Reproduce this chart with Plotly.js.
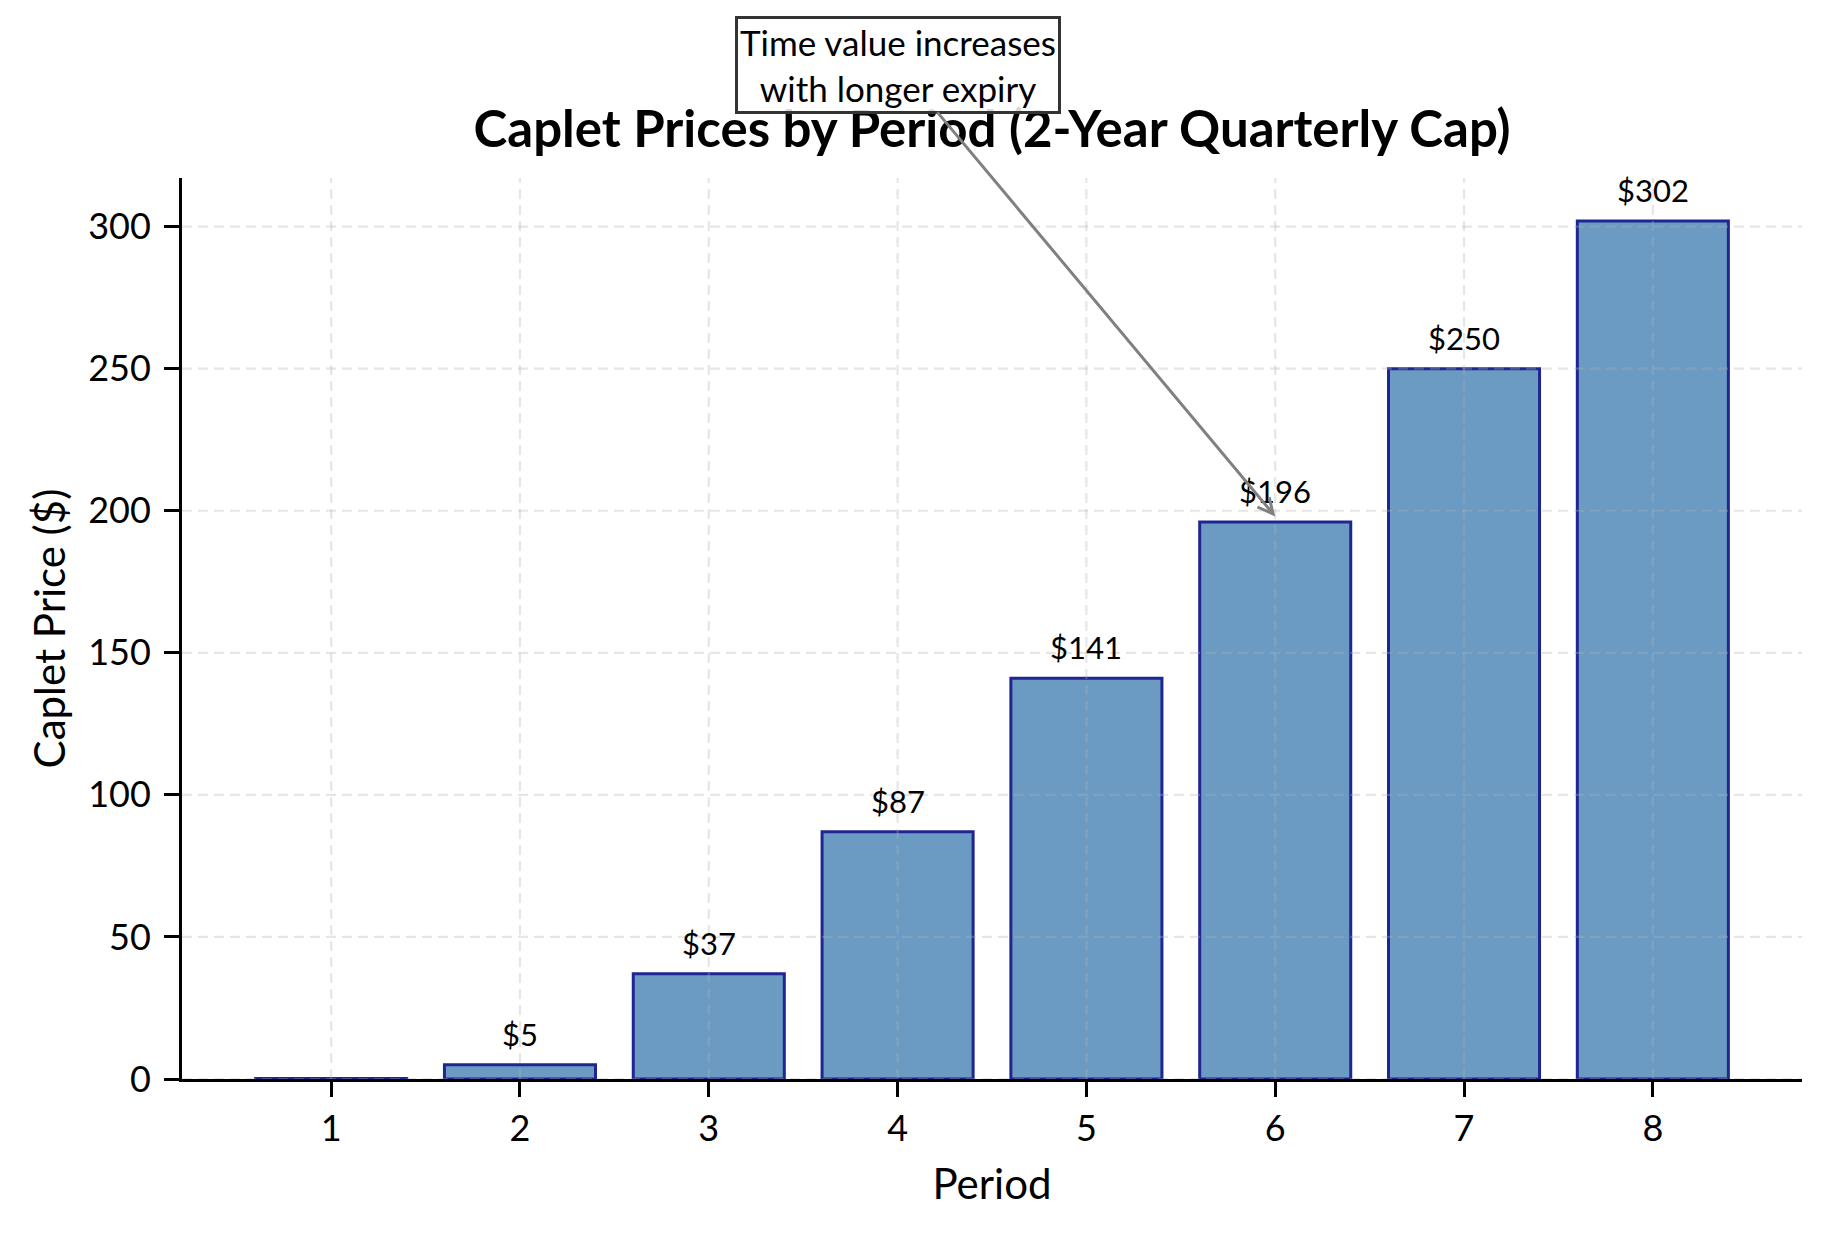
<!DOCTYPE html>
<html>
<head>
<meta charset="utf-8">
<script src="https://cdn.plot.ly/plotly-3.0.1.min.js"></script>
<style>html,body{margin:0;padding:0;background:#fff;}#chart{width:1834px;height:1235px;}</style>
</head>
<body>
<div id="chart"></div>
<script>
// ---- data ----
const periods = [1, 2, 3, 4, 5, 6, 7, 8];
const capletPrices = [0.2, 5, 37, 87, 141, 196, 250, 302];
const yTickVals = [0, 50, 100, 150, 200, 250, 300];
const chartTitle = 'Caplet Prices by Period (2-Year Quarterly Cap)';
const xTitle = 'Period';
const yTitle = 'Caplet Price ($)';
const noteText = 'Time value increases<br>with longer expiry';
const notePoint = {x: 6, y: 198};
const noteTail = {x: 4, y: 357};

const FONT = 'Lato, "Source Sans 3", "Source Sans Pro", "Noto Sans", sans-serif';
const gridColor = 'rgba(176,176,176,0.32)';

const trace = {
  type: 'bar',
  x: periods,
  y: capletPrices,
  width: 0.8,
  marker: {color: 'rgba(70,130,180,0.8)', line: {color: 'rgb(32,38,145)', width: 3}},
  hoverinfo: 'x+y'
};

const shapes = [];
periods.forEach(p => shapes.push({type: 'line', layer: 'above', xref: 'x', yref: 'y domain', x0: p, x1: p, y0: 0, y1: 1,
  line: {color: gridColor, width: 2.2, dash: '10px,6px'}}));
yTickVals.forEach(v => shapes.push({type: 'line', layer: 'above', xref: 'x domain', yref: 'y', x0: 0, x1: 1, y0: v, y1: v,
  line: {color: gridColor, width: 2.2, dash: '10px,6px'}}));

const annotations = capletPrices.map((v, i) => ({
  x: periods[i], y: v, xref: 'x', yref: 'y', text: v >= 1 ? '$' + Math.round(v) : '',
  showarrow: false, yanchor: 'bottom', yshift: 10, font: {family: FONT, size: 31, color: '#000'}
}));
annotations.push({
  x: notePoint.x, y: notePoint.y, xref: 'x', yref: 'y', ax: noteTail.x, ay: noteTail.y, axref: 'x', ayref: 'y',
  text: noteText, showarrow: true, arrowhead: 5, arrowsize: 1.0, arrowwidth: 3, arrowcolor: '#808080',
  font: {family: FONT, size: 35, color: '#000'}, align: 'center',
  bgcolor: 'rgba(255,255,255,0.85)', bordercolor: '#333333', borderwidth: 3, borderpad: 2
});

const layout = {
  width: 1834, height: 1235,
  margin: {l: 182, r: 32, t: 178, b: 156},
  paper_bgcolor: '#fff', plot_bgcolor: '#fff',
  showlegend: false,
  font: {family: FONT, color: '#000'},
  title: {text: '<b>' + chartTitle + '</b>', font: {family: FONT, size: 51, color: '#000'},
    x: 0.5, xref: 'paper', xanchor: 'center', y: 1 - 129 / 1235, yanchor: 'middle'},
  xaxis: {
    range: [0.21, 8.79], tickvals: periods, ticktext: periods.map(String),
    showgrid: false, zeroline: false, showline: true, linecolor: '#000', linewidth: 3,
    ticks: 'outside', ticklen: 15, tickwidth: 3, tickcolor: '#000', ticklabelstandoff: 1,
    tickfont: {family: FONT, size: 36, color: '#000'},
    title: {text: xTitle, font: {family: FONT, size: 42, color: '#000'}, standoff: 22}
  },
  yaxis: {
    range: [0, 317.1], tickvals: yTickVals, ticktext: yTickVals.map(String),
    showgrid: false, zeroline: false, showline: true, linecolor: '#000', linewidth: 3,
    ticks: 'outside', ticklen: 15, tickwidth: 3, tickcolor: '#000', ticklabelstandoff: 6,
    tickfont: {family: FONT, size: 36, color: '#000'},
    title: {text: yTitle, font: {family: FONT, size: 42, color: '#000'}, standoff: 10}
  },
  shapes: shapes,
  annotations: annotations
};

Plotly.newPlot('chart', [trace], layout, {displayModeBar: false, responsive: false});
</script>
</body>
</html>
